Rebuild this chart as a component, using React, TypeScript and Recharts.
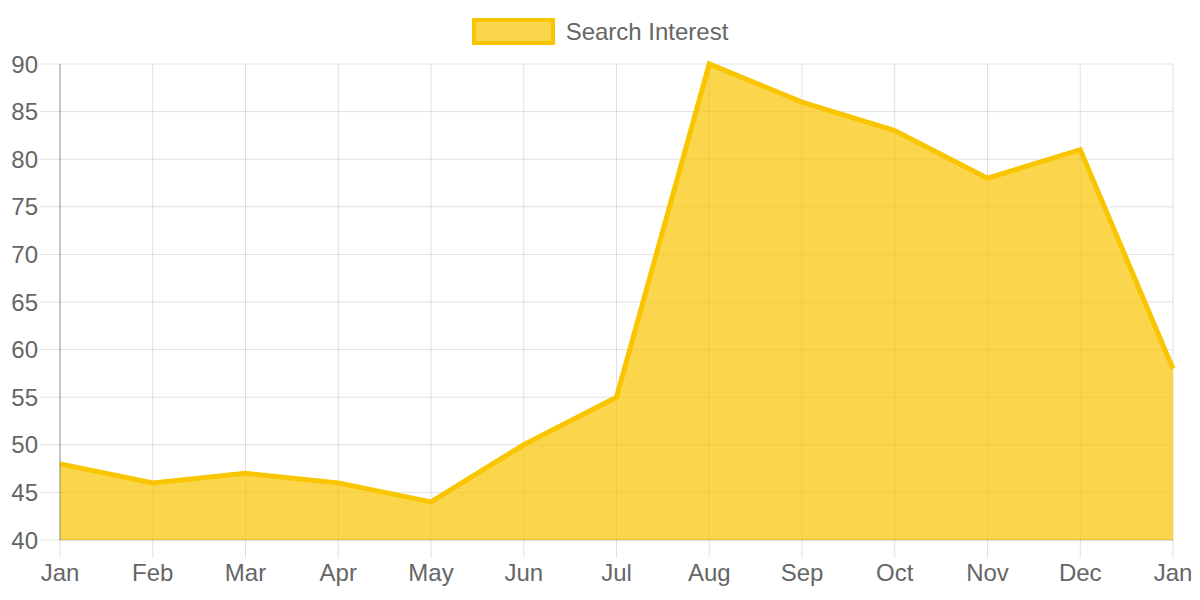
import React from 'react';
import { AreaChart, Area, XAxis, YAxis, CartesianGrid } from 'recharts';

const months = ['Jan', 'Feb', 'Mar', 'Apr', 'May', 'Jun', 'Jul', 'Aug', 'Sep', 'Oct', 'Nov', 'Dec', 'Jan'];
const interest = [48, 46, 47, 46, 44, 50, 55, 90, 86, 83, 78, 81, 58];
const yTicks = [40, 45, 50, 55, 60, 65, 70, 75, 80, 85, 90];
const seriesName = 'Search Interest';

const data = months.map((m, i) => ({ idx: i, month: m, value: interest[i] }));

const STROKE = '#F9C500';
const FILL = 'rgba(249,197,0,0.7)';
const FONT = '"Liberation Sans", Arial, Helvetica, sans-serif';

export default function App() {
  return (
    <div style={{ position: 'absolute', left: 0, top: 0, width: 1200, height: 600, background: '#fff', fontFamily: FONT }}>
      <div
        style={{
          position: 'absolute',
          top: 18,
          left: 0,
          width: 1200,
          display: 'flex',
          justifyContent: 'center',
          alignItems: 'center',
        }}
      >
        <div style={{ display: 'flex', alignItems: 'center' }}>
          <div
            style={{
              width: 75,
              height: 19,
              border: `4px solid ${STROKE}`,
              background: FILL,
              marginRight: 11,
            }}
          />
          <span style={{ fontSize: 24, color: '#666', fontFamily: FONT, lineHeight: '27px' }}>{seriesName}</span>
        </div>
      </div>
      <AreaChart
        width={1200}
        height={600}
        data={data}
        margin={{ top: 64, right: 27, bottom: 0, left: 0 }}
      >
        <CartesianGrid stroke="rgba(0,0,0,0.12)" strokeWidth={1} />
        <XAxis
          dataKey="idx"
          type="category"
          tickFormatter={(v: number) => months[v]}
          height={60}
          tickSize={18}
          tickMargin={6}
          interval={0}
          axisLine={{ stroke: 'rgba(0,0,0,0.15)' }}
          tickLine={{ stroke: 'rgba(0,0,0,0.12)' }}
          tick={{ fill: '#666', fontSize: 24, fontFamily: FONT }}
        />
        <YAxis
          domain={[40, 90]}
          ticks={yTicks}
          interval={0}
          width={60}
          tickSize={20}
          tickMargin={2}
          axisLine={{ stroke: 'rgba(0,0,0,0.35)' }}
          tickLine={{ stroke: 'rgba(0,0,0,0.12)' }}
          tick={{ fill: '#666', fontSize: 24, fontFamily: FONT }}
        />
        <Area
          type="linear"
          dataKey="value"
          name={seriesName}
          stroke={STROKE}
          strokeWidth={5}
          fill={STROKE}
          fillOpacity={0.7}
          dot={false}
          activeDot={false}
          baseValue={40}
          isAnimationActive={false}
        />
      </AreaChart>
    </div>
  );
}
